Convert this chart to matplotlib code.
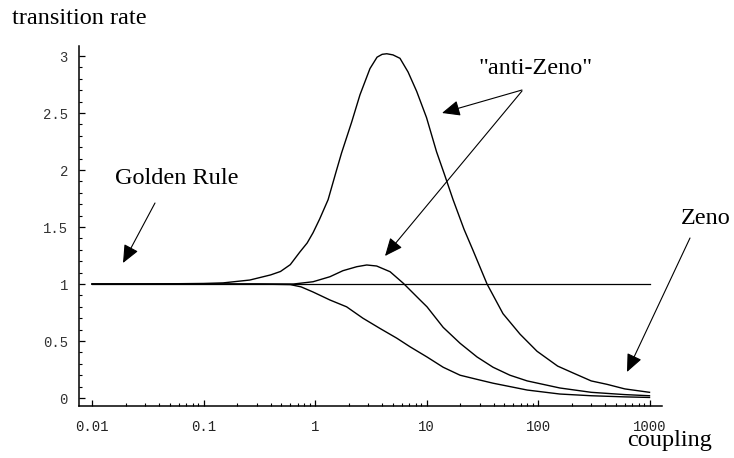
import matplotlib
matplotlib.use("Agg")
import matplotlib.pyplot as plt
from matplotlib.ticker import FixedLocator, NullFormatter

# ---- data ----
x_big = [0.01, 0.03, 0.1, 0.15, 0.26, 0.4, 0.49, 0.6, 0.73, 0.85, 0.96, 1.1, 1.31,
         1.55, 1.73, 2.13, 2.53, 3.11, 3.6, 4.0, 4.4, 5.0, 5.78, 6.83, 8.16, 10.0,
         12.3, 14.5, 17.3, 21.7, 26, 34.9, 48.5, 69, 98, 150, 206, 300, 416, 600, 1000]
y_big = [1.0, 1.0, 1.005, 1.01, 1.035, 1.08, 1.11, 1.17, 1.28, 1.36, 1.45, 1.57, 1.74,
         1.99, 2.15, 2.42, 2.66, 2.89, 2.99, 3.015, 3.02, 3.01, 2.98, 2.86, 2.69, 2.46,
         2.16, 1.96, 1.74, 1.48, 1.30, 1.0, 0.74, 0.56, 0.41, 0.28, 0.22, 0.15, 0.12, 0.08, 0.05]

x_mid = [0.01, 0.3, 0.64, 0.96, 1.36, 1.78, 2.37, 2.91, 3.57, 4.71, 6.2, 8.75,
         10.1, 14.1, 20, 28.4, 39.5, 56, 80, 157, 300, 600, 1000]
y_mid = [1.0, 1.0, 1.0, 1.02, 1.064, 1.117, 1.152, 1.167, 1.158, 1.108, 1.006, 0.86,
         0.80, 0.62, 0.48, 0.36, 0.27, 0.20, 0.15, 0.088, 0.05, 0.03, 0.02]

x_low = [0.01, 0.3, 0.6, 0.75, 0.96, 1.36, 1.92, 2.69, 3.83, 5.41, 7.1, 10.1, 14.1,
         20, 28, 39.5, 80, 157, 300, 600, 1000]
y_low = [1.0, 1.0, 0.995, 0.975, 0.93, 0.86, 0.80, 0.70, 0.61, 0.525, 0.45, 0.36, 0.27,
         0.20, 0.165, 0.13, 0.07, 0.035, 0.02, 0.01, 0.005]

x_flat = [0.01, 1000]
y_flat = [1.0, 1.0]

x_ticks = [0.01, 0.1, 1, 10, 100, 1000]
x_ticklabels = ["0.01", "0.1", "1", "10", "100", "1000"]
y_ticks = [0, 0.5, 1, 1.5, 2, 2.5, 3]
y_ticklabels = ["0", "0.5", "1", "1.5", "2", "2.5", "3"]

# ---- figure ----
W, H = 734, 458
fig = plt.figure(figsize=(W / 100, H / 100), dpi=100)
ax = fig.add_axes([79 / W, 1 - 406 / H, (662 - 79) / W, (406 - 46) / H])

lc = "black"
ax.plot(x_flat, y_flat, color=lc, lw=0.9)
ax.plot(x_big, y_big, color=lc, lw=1.0)
ax.plot(x_mid, y_mid, color=lc, lw=1.0)
ax.plot(x_low, y_low, color=lc, lw=1.0)

ax.set_xscale("log")
ax.set_xlim(0.00764, 1294)
ax.set_ylim(-0.07, 3.088)

ax.spines["top"].set_visible(False)
ax.spines["right"].set_visible(False)
for s in ("left", "bottom"):
    ax.spines[s].set_linewidth(1.1)

ax.xaxis.set_major_locator(FixedLocator(x_ticks))
ax.xaxis.set_major_formatter(NullFormatter())
minor_x = [m * 10.0 ** k for k in range(-2, 3) for m in range(2, 10)]
ax.xaxis.set_minor_locator(FixedLocator(minor_x))
ax.xaxis.set_minor_formatter(NullFormatter())

ax.set_yticks(y_ticks, y_ticklabels)
minor_y = [i / 10 for i in range(0, 31) if i % 5 != 0]
ax.yaxis.set_minor_locator(FixedLocator(minor_y))
ax.yaxis.set_minor_formatter(NullFormatter())

ax.tick_params(axis="both", which="major", direction="in", length=4, width=0.9,
               colors="black", labelcolor="#333333", labelsize=10)
ax.tick_params(axis="both", which="minor", direction="in", length=2.2, width=0.8)
ax.tick_params(axis="x", which="major", labelbottom=False)
ax.tick_params(axis="y", which="major", pad=8)
for lab in ax.get_yticklabels():
    lab.set_fontfamily("Liberation Mono")

# x tick labels placed explicitly under each major tick
xlab_y = -(427 - 406) / (406 - 46)
for xv, lab in zip(x_ticks, x_ticklabels):
    ax.annotate(lab, xy=(xv, xlab_y), xycoords=("data", "axes fraction"),
                ha="center", va="center", family="Liberation Mono", size=10,
                color="#222222", annotation_clip=False, zorder=10)

serif = dict(family="Liberation Serif", size=17.5, color="black")
fig.text(12 / W, 1 - 23.5 / H, "transition rate", ha="left", va="baseline", **serif)
fig.text(627 / W, 1 - 446 / H, "coupling", ha="left", va="baseline", **serif)
fig.text(115 / W, 1 - 184 / H, "Golden Rule", ha="left", va="baseline", **serif)
fig.text(479 / W, 1 - 74 / H, "\"anti-Zeno\"", ha="left", va="baseline", **serif)
fig.text(681 / W, 1 - 224 / H, "Zeno", ha="left", va="baseline", **serif)

arrow_kw = dict(arrowstyle="-|>,head_length=0.55,head_width=0.24", color="black",
                lw=0.8, shrinkA=0, shrinkB=0, mutation_scale=20)

def arrow(x0, y0, x1, y1):
    ax.annotate("", xy=(x1 / W, 1 - y1 / H), xycoords="figure fraction",
                xytext=(x0 / W, 1 - y0 / H), textcoords="figure fraction",
                arrowprops=arrow_kw, annotation_clip=False)

arrow(155, 203, 123, 263)
arrow(522, 90, 442, 113)
arrow(522, 91, 385, 256)
arrow(690, 238, 627, 372)

fig.savefig("out.png", dpi=100)
